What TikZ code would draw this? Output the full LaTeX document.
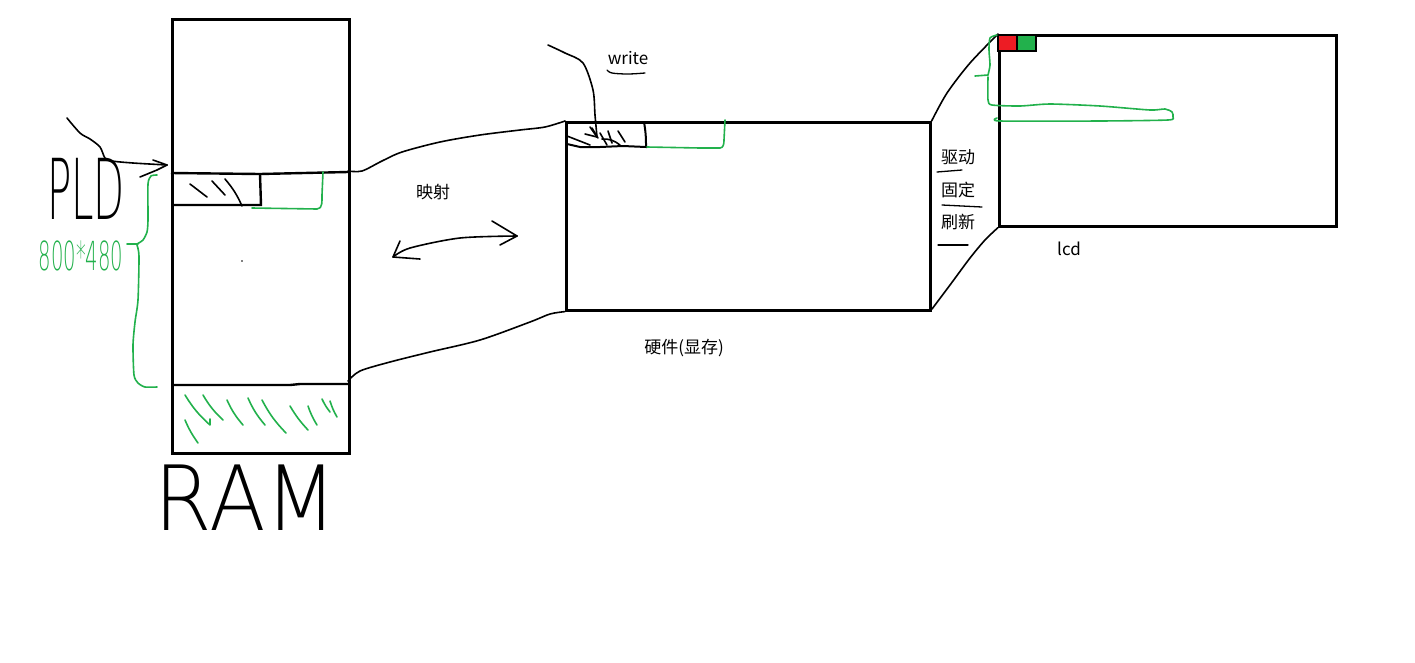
\documentclass[tikz,border=0pt]{standalone}
\usepackage{fontspec}
\newfontfamily\cjk{Noto Sans CJK SC}
\newfontfamily\hand{DejaVu Sans ExtraLight}
\definecolor{pgreen}{RGB}{34,177,76}
\definecolor{pred}{RGB}{237,28,36}
\tikzset{
  box/.style={draw, line width=2.6pt, inner sep=0pt, anchor=north west},
  hline/.style={line width=1.6pt, line cap=round, line join=round},
  gline/.style={hline, draw=pgreen},
  lab/.style={font=\cjk\fontsize{17}{17}\selectfont, inner sep=0pt},
  handtxt/.style={font=\hand, inner sep=0pt, anchor=base, text depth=0pt},
}
\begin{document}
\begin{tikzpicture}[x=1pt,y=-1pt]
\fill[white] (0,0) rectangle (1415,662);
\useasboundingbox (0,0) rectangle (1415,662);

% ---------------- RAM ----------------
\node[box, minimum width=177pt, minimum height=434pt] (ram) at (171,18) {};
\draw[line width=2.4pt] (171,173) -- (260,174) -- (348,172);
\draw[line width=2.4pt] (260,174) -- (261,205) -- (171,205);
\draw[line width=2.4pt] (171,385) -- (290,385) -- (300,384) -- (348,384);
\fill (242,261) circle (0.9);
% hatch in small box
\draw[hline] (190,184) -- (207,197);
\draw[hline] (212,181) -- (225,195);
\draw[hline] (225,179) to[bend left=8] (242,206);
% green in RAM
\draw[gline] (252,208) -- (317,209) to[out=0,in=-90] (322,195) -- (323,172);
\draw[gline] (185,395) to[bend right=8] (210,425) -- (210,419);
\draw[gline] (185,420) to[bend right=6] (198,443);
\draw[gline] (203,395) to[bend right=8] (223,420);
\draw[gline] (227,400) to[bend right=8] (243,425);
\draw[gline] (248,398) to[bend right=8] (265,425);
\draw[gline] (262,400) to[bend right=8] (286,433);
\draw[gline] (290,406) to[bend right=6] (308,430);
\draw[gline] (308,406) to[bend right=6] (317,425);
\draw[gline] (322,399) to[bend right=6] (330,412);
\draw[gline] (330,401) to[bend right=6] (337,417);
\node[handtxt, font=\hand\fontsize{90}{90}\selectfont, xscale=0.92] (ramlab) at (246,530) {RAM};

% left label and arrow
\node[handtxt, font=\hand\fontsize{84}{84}\selectfont, xscale=0.48] (pld) at (86,219) {PLD};
\coordinate (pa) at (67,118);
\coordinate (pb) at (167,165);
\draw[hline] plot[smooth, tension=0.5] coordinates {(pa) (80,133) (90,139) (100,147) (105,158) (112,161) (133,163) (pb)};
\draw[hline] (153,160) -- (pb);
\draw[hline] (140,177) -- (157,170) -- (pb);
% green brace
\draw[gline] plot[smooth, tension=0.4] coordinates {(157,175) (151,176) (148,184) (148,220) (147,232) (143,240) (137,244)};
\draw[gline] (127,244) -- (138,244);
\draw[gline] plot[smooth, tension=0.4] coordinates {(137,245) (139,256) (138,300) (135,322) (133,345) (134,375) (138,383) (145,387) (157,387)};
\node[handtxt, text=pgreen, font=\hand\fontsize{40}{40}\selectfont, xscale=0.49] (size) at (81,270) {800*480};

% ---------------- VRAM ----------------
\node[box, minimum width=364pt, minimum height=188pt] (vram) at (565,121) {};
\coordinate (t1) at (348,171);
\coordinate (b1) at (348,381);
\draw[hline] plot[smooth, tension=0.5] coordinates {(t1) (362,171) (382,161) (402,152) (440,142) (480,135) (520,130) (545,127) (vram.north west)};
\draw[hline] plot[smooth, tension=0.5] coordinates {(b1) (360,371) (390,362) (430,352) (480,340) (530,322) (550,314) (vram.south west)};
% inner box
\draw[line width=2pt, line cap=round] (644,122) to[bend left=5] (646,147) -- (623,146) -- (600,147) -- (580,147) -- (567,144);
\draw[hline] (567,136) -- (590,145);
\draw[hline] (592,128) -- (598,138);
\draw[hline] (600,133) -- (607,145);
\draw[hline] (608,131) -- (612,143);
\draw[hline] (618,131) -- (625,142);
\draw[hline] (602,139) to[bend left=20] (620,145);
\draw[gline] (647,147) -- (700,148) -- (720,148) to[out=0,in=-90] (724,140) -- (725,120);
% write arrow
\coordinate (wa) at (548,45);
\coordinate (wb) at (597,137);
\draw[hline] plot[smooth, tension=0.5] coordinates {(wa) (565,53) (583,63) (593,90) (595,115) (wb)};
\draw[hline] (590,127) -- (wb);
\draw[hline] (585,134) -- (wb);
\node[lab] (write) at (628,58) {write};
\draw[hline, line width=1.3pt] plot[smooth, tension=0.6] coordinates {(607,70) (612,73) (628,74) (645,73)};
% mapping
\node[lab] (ys) at (433,192) {映射};
\coordinate (ma) at (393,257);
\coordinate (mb) at (517,236);
\draw[hline] plot[smooth, tension=0.5] coordinates {(ma) (410,248) (460,238) (mb)};
\draw[hline] (400,241) -- (ma) -- (420,259);
\draw[hline] (492,221) -- (mb) -- (500,245);
\node[lab] (hw) at (684,348) {硬件(显存)};

% ---------------- LCD ----------------
\node[box, minimum width=337pt, minimum height=191pt] (lcd) at (998,34) {};
\draw[hline] plot[smooth, tension=0.5] coordinates {(vram.north east) (947,93) (970,63) (lcd.north west)};
\draw[hline] plot[smooth, tension=0.5] coordinates {(932,309) (950,285) (970,258) (985,240) (lcd.south west)};
\filldraw[fill=pred, draw=black, line width=1.2pt] (998,35) rectangle (1017,51);
\filldraw[fill=pgreen, draw=black, line width=1.2pt] (1017,35) rectangle (1036,51);
\draw[gline] plot[smooth, tension=0.4] coordinates {(997,35) (990,38) (989,50) (990,65) (988,75)};
\draw[gline] (975,76) -- (988,75);
\draw[gline] plot[smooth, tension=0.4] coordinates {(988,77) (988,100) (992,105) (1020,106) (1050,104) (1100,106) (1150,110) (1165,109) (1172,112) (1173,117) (1168,120) (1100,121) (1000,121) (997,118)};
\node[lab] (qd) at (958,157) {驱动};
\draw[hline, line width=1.3pt] (937,172) -- (962,170);
\node[lab] (gd) at (958,190) {固定};
\draw[hline, line width=1.3pt] (942,205) -- (982,207);
\node[lab] (sx) at (958,222) {刷新};
\draw[hline, line width=1.3pt] (938,245) -- (968,245);
\node[lab] (lcdlab) at (1069,249) {lcd};
\end{tikzpicture}
\end{document}
